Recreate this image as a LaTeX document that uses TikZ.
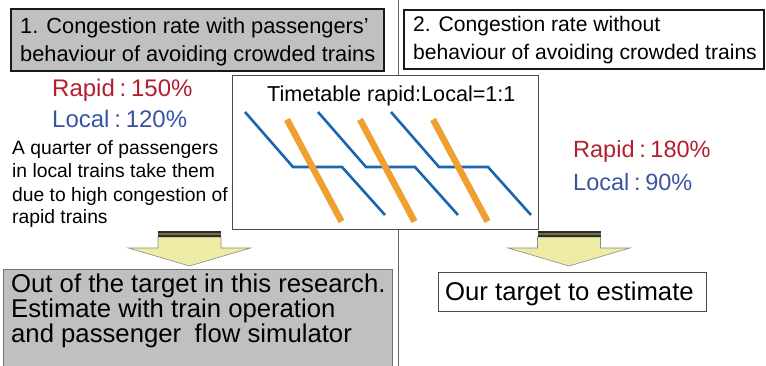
\documentclass[tikz,border=0pt]{standalone}
\usepackage{fontspec}
\setmainfont{Liberation Sans}
\definecolor{boxgray}{HTML}{C0C0C0}
\definecolor{rapidred}{HTML}{B2202F}
\definecolor{localblue}{HTML}{3A54A4}
\definecolor{linblue}{HTML}{1A64B0}
\definecolor{linorange}{HTML}{F0A030}
\definecolor{arrfill}{HTML}{EEEBA5}
\definecolor{bandcol}{HTML}{2E2E28}
\definecolor{bandolive}{HTML}{6E6E48}
\tikzset{
  txt/.style={inner sep=0pt, anchor=base west},
  headbox/.style={anchor=north west, inner sep=0pt, line width=2pt, draw=black!90},
  plainbox/.style={anchor=north west, inner sep=0pt, line width=1.1pt, draw=black!70, fill=white},
  localline/.style={linblue, line width=2.6pt, line join=miter},
  rapidline/.style={linorange, line width=6.5pt},
  blockarr/.pic={
    \fill[arrfill, draw=black!45, line width=0.6pt] (-31.5,6) -- (31.5,6) -- (31.5,17) -- (61,17) -- (0,35) -- (-61,17) -- (-31.5,17) -- cycle;
    \fill[bandcol] (-31.5,0) rectangle (31.5,6);
    \draw[bandolive, line width=1.4pt] (-31.5,3) -- (31.5,3);
  }
}
\begin{document}
\begin{tikzpicture}[x=1pt,y=-1pt]
\clip (0,0) rectangle (766,366);
\fill[white] (0,0) rectangle (766,366);
% separator
\draw[black!60, line width=0.9pt] (398,0) -- (398,366);
% header boxes
\node[headbox, fill=boxgray, minimum width=373pt, minimum height=62pt] (box1) at (10,8) {};
\node[headbox, fill=white, minimum width=360pt, minimum height=59pt] (box2) at (403,9) {};
\node[txt] (b1l1) at (20,33.3) {\fontsize{21.8}{26}\selectfont 1. Congestion rate with passengers’};
\node[txt] (b1l2) at (20,61.7) {\fontsize{21.8}{26}\selectfont behaviour of avoiding crowded trains};
\node[txt] (b2l1) at (413,31.7) {\fontsize{21.1}{26}\selectfont 2. Congestion rate without};
\node[txt] (b2l2) at (413,59.3) {\fontsize{21.1}{26}\selectfont behaviour of avoiding crowded trains};
% rates left
\node[txt, text=rapidred] (r1) at (52,97) {\fontsize{24}{28}\selectfont Rapid\hspace{0.2em}:\hspace{0.2em}150\%};
\node[txt, text=localblue] (l1) at (52,128) {\fontsize{24}{28}\selectfont Local\hspace{0.2em}:\hspace{0.2em}120\%};
% paragraph
\node[txt] (p1) at (12,155) {\fontsize{19.3}{23}\selectfont A quarter of passengers};
\node[txt] (p2) at (12,178) {\fontsize{19.3}{23}\selectfont in local trains take them};
\node[txt] (p3) at (12,202) {\fontsize{19.3}{23}\selectfont due to high congestion of};
\node[txt] (p4) at (12,224) {\fontsize{19.3}{23}\selectfont rapid trains};
% rates right
\node[txt, text=rapidred] (r2) at (573,158) {\fontsize{23.5}{28}\selectfont Rapid\hspace{0.2em}:\hspace{0.2em}180\%};
\node[txt, text=localblue] (l2) at (573,191) {\fontsize{23.5}{28}\selectfont Local\hspace{0.2em}:\hspace{0.2em}90\%};
% timetable box
\node[plainbox, minimum width=306pt, minimum height=154pt] (tt) at (232,75) {};
\node[txt] (ttl) at (267,102) {\fontsize{21.6}{26}\selectfont Timetable rapid:Local=1:1};
\foreach \d in {0,73,146}{
  \draw[localline] (245+\d,112) -- (293+\d,167) -- (342+\d,167) -- (385+\d,215);
}
\foreach \d in {0,73,146}{
  \draw[rapidline] (287+\d,119.5) -- (341.5+\d,221.5);
}
% block arrows
\pic at (189.5,231) {blockarr};
\pic at (569,231) {blockarr};
% bottom boxes
\node[anchor=north west, inner sep=0pt, fill=boxgray, draw=black!55, line width=0.8pt, minimum width=389pt, minimum height=100pt] (box3) at (3,269) {};
\node[txt] (b3l1) at (11,292) {\fontsize{25.7}{28}\selectfont Out of the target in this research.};
\node[txt] (b3l2) at (11,317) {\fontsize{25.7}{28}\selectfont Estimate with train operation};
\node[txt] (b3l3) at (11,342) {\fontsize{25.7}{28}\selectfont and passenger\hspace{0.25em} flow simulator};
\node[plainbox, minimum width=268pt, minimum height=39pt] (box4) at (438,272) {};
\node[txt] (b4l1) at (445,300) {\fontsize{25.7}{28}\selectfont Our target to estimate};
\end{tikzpicture}
\end{document}
